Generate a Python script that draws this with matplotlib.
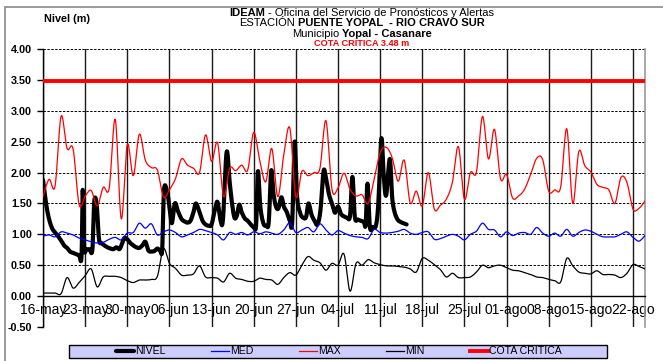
import numpy as np
import matplotlib
matplotlib.use("Agg")
import matplotlib.pyplot as plt
from matplotlib.patches import Rectangle

plt.rcParams['font.family'] = ['Liberation Sans', 'DejaVu Sans']

# ---------------- data ----------------
etiquetas_fecha = ['16-may', '23-may', '30-may', '06-jun', '13-jun', '20-jun', '27-jun',
                   '04-jul', '11-jul', '18-jul', '25-jul', '01-ago', '08-ago', '15-ago', '22-ago']
dia_etiquetas = [0, 7, 14, 21, 28, 35, 42, 49, 56, 63, 70, 77, 84, 91, 98]
dias = np.arange(101)          # daily values from 16-may
ultimo_dia = 100

cota_critica = 3.48

nivel_max = [1.61, 1.89, 1.78, 2.91, 2.39, 2.38, 1.48, 1.62, 1.71, 1.46,
             1.76, 1.75, 2.86, 1.25, 2.45, 1.95, 2.62, 2.20, 2.08, 2.04,
             1.61, 1.72, 1.90, 2.22, 2.12, 2.07, 2.00, 2.61, 2.18, 2.48,
             1.61, 2.07, 2.03, 2.12, 2.04, 2.65, 2.20, 1.85, 2.39, 1.61,
             2.29, 2.72, 1.61, 2.02, 1.95, 2.00, 2.07, 2.84, 1.73, 1.75,
             1.99, 1.73, 1.62, 1.64, 1.50, 1.89, 2.32, 2.41, 2.24, 1.86,
             2.20, 1.51, 1.70, 1.46, 2.00, 1.41, 1.47, 1.57, 1.84, 2.42,
             1.57, 2.00, 2.01, 2.91, 2.22, 2.70, 1.90, 1.97, 1.59, 1.62,
             1.73, 1.97, 2.23, 2.21, 1.70, 1.72, 1.77, 2.71, 1.50, 2.34,
             2.11, 2.01, 1.81, 1.76, 1.72, 1.50, 1.92, 1.84, 1.41, 1.42,
             1.54]

nivel_med = [0.97, 0.99, 0.96, 1.04, 1.02, 0.99, 0.94, 0.91, 0.88, 0.86,
             0.87, 0.92, 0.95, 0.91, 1.02, 1.03, 1.18, 1.10, 1.17, 0.99,
             1.04, 1.07, 1.03, 0.96, 0.99, 1.03, 1.08, 1.06, 1.03, 0.99,
             0.91, 1.03, 1.00, 1.03, 0.99, 1.04, 1.01, 1.04, 1.02, 1.00,
             1.07, 1.19, 1.03, 1.07, 1.11, 1.04, 1.17, 1.07, 0.99, 1.06,
             1.02, 0.98, 0.96, 0.95, 0.93, 1.08, 1.03, 1.02, 1.03, 1.05,
             1.08, 1.02, 1.00, 1.03, 1.04, 0.92, 0.93, 0.97, 1.00, 0.97,
             0.91, 1.00, 1.05, 1.18, 1.08, 1.07, 0.96, 1.04, 0.98, 1.02,
             1.03, 1.00, 1.11, 1.02, 0.97, 1.02, 0.97, 1.08, 0.97, 1.03,
             1.07, 1.05, 1.00, 0.96, 0.96, 0.96, 1.00, 1.04, 0.95, 0.89,
             0.98]

nivel_min = [0.05, 0.05, 0.05, 0.04, 0.30, 0.13, 0.22, 0.33, 0.44, 0.15,
             0.31, 0.32, 0.32, 0.30, 0.25, 0.22, 0.26, 0.26, 0.27, 0.32,
             0.77, 0.53, 0.45, 0.34, 0.34, 0.36, 0.49, 0.31, 0.30, 0.29,
             0.23, 0.37, 0.29, 0.27, 0.24, 0.24, 0.29, 0.27, 0.26, 0.19,
             0.30, 0.38, 0.34, 0.50, 0.64, 0.58, 0.54, 0.42, 0.53, 0.50,
             0.68, 0.08, 0.53, 0.50, 0.59, 0.54, 0.51, 0.49, 0.49, 0.48,
             0.47, 0.44, 0.39, 0.61, 0.58, 0.51, 0.43, 0.31, 0.37, 0.30,
             0.30, 0.31, 0.39, 0.50, 0.46, 0.49, 0.50, 0.46, 0.42, 0.41,
             0.38, 0.35, 0.31, 0.30, 0.27, 0.25, 0.23, 0.61, 0.49, 0.39,
             0.37, 0.36, 0.41, 0.35, 0.35, 0.34, 0.30, 0.37, 0.51, 0.48,
             0.44]

# observed level: reading time (days since 16-may) and level (m)
nivel_dias = [0.0, 0.5, 1.0, 1.5, 2.0, 2.5, 3.0, 3.5, 4.0, 4.5, 5.0, 5.5, 6.0, 6.4, 6.6, 6.85,
              7.2, 7.7, 8.2, 8.5, 8.9, 9.3, 9.7, 10.2, 10.7, 11.2, 11.7, 12.2, 12.7, 13.1, 13.5,
              14.0, 14.5, 15.0, 15.5, 16.0, 16.5, 17.0, 17.5, 18.0, 18.5, 19.0, 19.5, 19.8,
              20.1, 20.6, 21.0, 21.4, 21.9, 22.4, 23.0, 23.5, 24.0, 24.5, 25.0, 25.4, 26.0,
              26.5, 27.0, 27.5, 28.0, 28.6, 29.0, 29.5, 29.9, 30.5, 31.0, 31.4, 31.8, 32.2,
              32.6, 33.0, 33.5, 34.0, 34.5, 35.0, 35.4, 35.7, 36.1, 36.6, 37.1, 37.5, 37.9,
              38.3, 38.7, 39.1, 39.6, 40.0, 40.5, 41.0, 41.4, 41.8, 42.2, 42.7, 43.2, 43.7,
              44.1, 44.6, 45.1, 45.6, 46.1, 46.6, 47.0, 47.5, 48.0, 48.5, 49.0, 49.5, 50.0,
              50.5, 51.0, 51.4, 51.8, 52.3, 52.8, 53.3, 53.6, 53.9, 54.3, 54.8, 55.3, 55.7,
              56.2, 56.6, 57.0, 57.6, 58.0, 58.4, 58.9, 59.4, 59.9, 60.4]
nivel_m = [1.88, 1.50, 1.25, 1.10, 1.03, 0.97, 0.90, 0.82, 0.78, 0.72, 0.70, 0.68, 0.66, 0.64, 1.72, 0.78,
           0.76, 0.76, 0.75, 1.52, 1.50, 0.92, 0.86, 0.82, 0.79, 0.77, 0.76, 0.79, 0.76, 0.84, 0.94,
           0.92, 0.86, 0.82, 0.79, 0.78, 0.82, 0.88, 0.74, 0.72, 0.73, 0.77, 0.73, 0.76,
           1.72, 1.70, 1.45, 1.18, 1.50, 1.38, 1.25, 1.21, 1.19, 1.22, 1.36, 1.50, 1.36,
           1.22, 1.16, 1.14, 1.16, 1.42, 1.52, 1.22, 1.25, 2.33, 1.85, 1.50, 1.27, 1.30,
           1.48, 1.36, 1.26, 1.22, 1.16, 1.12, 1.15, 2.02, 1.45, 1.18, 1.14, 1.20, 2.03,
           1.65, 1.45, 1.42, 1.60, 1.45, 1.36, 1.22, 1.20, 2.50, 1.62, 1.35, 1.27, 1.28,
           1.50, 1.32, 1.22, 1.16, 1.40, 2.02, 1.92, 1.65, 1.50, 1.35, 1.45, 1.33, 1.29,
           1.27, 1.30, 1.93, 1.28, 1.24, 1.22, 1.20, 1.16, 1.82, 1.12, 1.12, 1.14, 1.50,
           2.55, 1.95, 1.63, 2.22, 1.60, 1.36, 1.24, 1.20, 1.18, 1.16]


def suavizar(x, y, pasos=14):
    """Smoothed polyline through the points (cubic Bezier, 1/6 tangents)."""
    p = np.column_stack([np.asarray(x, float), np.asarray(y, float)])
    ext = np.vstack([p[0], p, p[-1]])
    t = np.linspace(0, 1, pasos, endpoint=False)[:, None]
    partes = []
    for i in range(len(p) - 1):
        p0, p1, p2, p3 = ext[i], ext[i + 1], ext[i + 2], ext[i + 3]
        c1 = p1 + (p2 - p0) / 6.0
        c2 = p2 - (p3 - p1) / 6.0
        partes.append((1 - t) ** 3 * p1 + 3 * (1 - t) ** 2 * t * c1
                      + 3 * (1 - t) * t ** 2 * c2 + t ** 3 * p2)
    partes.append(p[-1:])
    c = np.vstack(partes)
    return c[:, 0], c[:, 1]


W, H = 663, 361
fig = plt.figure(figsize=(W / 100, H / 100), dpi=100, facecolor='white')
ax = fig.add_axes([43 / W, 1 - 327 / H, 602 / W, 278 / H])

l_nivel, = ax.plot(*suavizar(nivel_dias, nivel_m), color='black', lw=3.0,
                   solid_joinstyle='round', solid_capstyle='round', zorder=3, label='NIVEL')
l_med, = ax.plot(*suavizar(dias, nivel_med), color='#0000FF', lw=0.9, zorder=4, label='MED')
l_max, = ax.plot(*suavizar(dias, nivel_max), color='#FF0000', lw=0.9, zorder=5, label='MAX')
l_min, = ax.plot(*suavizar(dias, nivel_min), color='black', lw=0.9, zorder=6, label='MIN')
l_cota, = ax.plot([0, ultimo_dia], [cota_critica, cota_critica], color='#FF0000', lw=2.8,
                  zorder=7, label='COTA CRITICA')

ax.set_xlim(0, ultimo_dia)
ax.set_ylim(-0.5, 4.0)

yt = np.arange(-0.5, 4.01, 0.5)
ax.set_yticks(yt)
ax.set_yticklabels([f'{v:.2f}' for v in yt], fontweight='bold', fontsize=7.8)
ax.tick_params(axis='y', direction='out', length=4, width=1, pad=4, color='black')

ax.set_xticks(dia_etiquetas)
ax.set_xticklabels(etiquetas_fecha, fontweight='bold', fontsize=7.1)
ax.tick_params(axis='x', length=0, pad=4.8)

ax.set_axisbelow(True)
ax.grid(axis='y', color='black', lw=0.7, ls=(0, (2.5, 1.5)))
ax.grid(axis='x', color='#1a1a1a', lw=1.0, ls='-')

ax.spines['bottom'].set_position(('data', 0))
ax.spines['bottom'].set_color('black')
ax.spines['bottom'].set_linewidth(1.0)
ax.spines['left'].set_color('black')
ax.spines['left'].set_linewidth(1.0)
ax.spines['top'].set_visible(False)
ax.spines['right'].set_color('#999999')
ax.spines['right'].set_linewidth(1.2)

# outer chart frame
fig.add_artist(Rectangle((5 / W, -0.1), 1.2, 1 - 6.5 / H + 0.1, transform=fig.transFigure,
                         fill=False, edgecolor='#8a8a8a', lw=1.2, clip_on=False))

# titles with mixed weights
renderer = fig.canvas.get_renderer()


def linea(segmentos, base_px, size, cx_px=362):
    arts, anchos = [], []
    for txt, peso, color in segmentos:
        t = fig.text(0, 1 - base_px / H, txt, fontsize=size, fontweight=peso, color=color,
                     ha='left', va='baseline')
        arts.append(t)
        anchos.append(t.get_window_extent(renderer).width)
    hueco = size * 100 / 72 * 0.278
    total = sum(anchos) + hueco * (len(arts) - 1)
    x = cx_px - total / 2
    for t, w in zip(arts, anchos):
        t.set_x(x / W)
        x += w + hueco


linea([('IDEAM', 'bold', 'black'), ('- Oficina del Servicio de Pronósticos y Alertas', 'normal', 'black')], 15.5, 8)
linea([('ESTACIÓN', 'normal', 'black'), ('PUENTE YOPAL  - RIO CRAVO SUR', 'bold', 'black')], 26.3, 8)
linea([('Municipio', 'normal', 'black'), ('Yopal - Casanare', 'bold', 'black')], 36.8, 8)
linea([(f'COTA CRÍTICA {cota_critica:.2f} m', 'bold', '#FF0000')], 45.8, 6.6)

fig.text(44.5 / W, 1 - 21.5 / H, 'Nivel (m)', fontsize=7.8, fontweight='bold', ha='left', va='baseline')

# legend band
fig.add_artist(Rectangle((69 / W, 1 - 358 / H), 537.5 / W, 13 / H, transform=fig.transFigure,
                         facecolor='#CCCCFF', edgecolor='black', lw=1.0, zorder=1))
leg = fig.legend(handles=[l_nivel, l_med, l_max, l_min, l_cota], loc='center',
                 bbox_to_anchor=(339 / W, 1 - 351.5 / H), ncol=5, frameon=False, fontsize=7.6,
                 handlelength=1.7, handletextpad=0.1, columnspacing=4.3, borderpad=0.0)
leg.set_zorder(2)

fig.savefig('out.png', dpi=100, facecolor='white')
